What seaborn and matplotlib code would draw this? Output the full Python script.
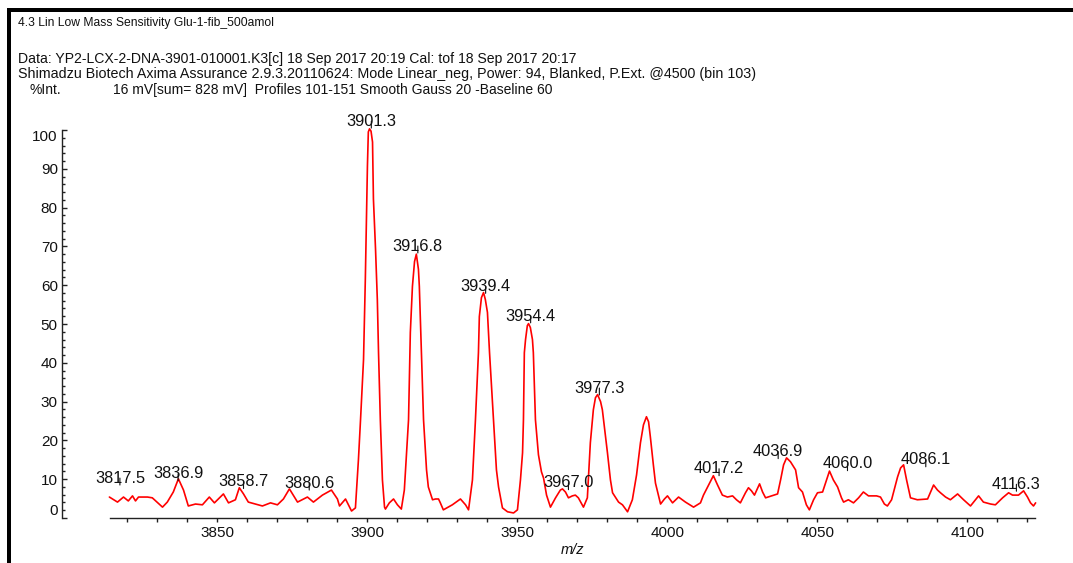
import matplotlib
matplotlib.use("Agg")
import matplotlib.pyplot as plt
from matplotlib.patches import Rectangle
from matplotlib.ticker import MultipleLocator
import numpy as np
import pandas as pd
import seaborn as sns

# ---- spectrum profile (m/z, relative intensity in %) ----
mz = [3814.0, 3816.7, 3818.7, 3820.3, 3821.7, 3822.7, 3823.7, 3826.7, 3828.3, 3831.7,
      3833.3, 3835.3, 3837.0, 3838.7, 3840.3, 3842.7, 3845.0, 3847.3, 3849.0, 3852.0,
      3853.7, 3856.0, 3857.3, 3858.7, 3860.3, 3865.0, 3867.7, 3870.0, 3872.0, 3874.0,
      3876.7, 3880.0, 3882.0, 3885.0, 3888.0, 3890.0, 3890.7, 3892.7, 3894.7, 3896.0,
      3897.0, 3897.7, 3898.7, 3899.3, 3899.7, 3900.0, 3900.3, 3900.7, 3901.2, 3901.7,
      3902.0, 3902.7, 3903.3, 3903.7, 3904.3, 3905.0, 3905.7, 3906.0, 3907.3, 3908.7,
      3910.0, 3911.3, 3912.3, 3913.7, 3914.3, 3915.0, 3915.7, 3916.3, 3917.0, 3917.3,
      3918.0, 3918.7, 3919.7, 3920.3, 3921.7, 3922.7, 3923.7, 3924.3, 3925.3, 3928.3,
      3931.0, 3932.7, 3933.7, 3935.0, 3936.0, 3937.0, 3937.3, 3938.0, 3938.7, 3939.3,
      3940.0, 3940.7, 3942.0, 3943.0, 3943.7, 3945.0, 3946.7, 3948.7, 3950.0, 3951.0,
      3951.7, 3952.0, 3952.3, 3952.7, 3953.3, 3953.7, 3954.3, 3955.0, 3955.3, 3956.0,
      3957.0, 3958.0, 3958.7, 3959.7, 3961.0, 3962.7, 3964.3, 3965.0, 3966.0, 3967.0,
      3968.3, 3969.3, 3970.3, 3972.0, 3973.3, 3974.3, 3975.3, 3976.0, 3976.7, 3977.7,
      3978.3, 3979.3, 3980.0, 3981.0, 3981.7, 3983.7, 3985.0, 3986.7, 3988.3, 3989.7,
      3991.0, 3992.0, 3993.0, 3993.7, 3994.3, 3995.3, 3996.0, 3997.7, 3999.0, 4000.0,
      4001.7, 4003.7, 4006.0, 4008.7, 4011.0, 4012.0, 4013.7, 4015.3, 4016.7, 4018.3,
      4020.0, 4021.7, 4023.0, 4024.3, 4026.0, 4027.0, 4028.0, 4029.0, 4030.7, 4031.7,
      4032.7, 4034.7, 4036.7, 4037.7, 4038.7, 4039.7, 4041.0, 4042.7, 4043.7, 4045.0,
      4046.3, 4047.3, 4048.7, 4050.0, 4051.7, 4053.0, 4054.0, 4055.3, 4056.7, 4058.0,
      4058.7, 4060.3, 4062.0, 4063.7, 4065.3, 4067.0, 4068.3, 4069.7, 4071.0, 4072.3,
      4073.3, 4074.7, 4075.3, 4076.7, 4077.7, 4078.7, 4079.7, 4081.0, 4083.3, 4086.7,
      4088.0, 4088.7, 4090.0, 4091.0, 4092.7, 4094.3, 4096.7, 4098.7, 4101.0, 4103.7,
      4105.3, 4107.7, 4109.3, 4111.7, 4113.7, 4115.0, 4117.0, 4118.7, 4120.0, 4121.0,
      4122.0, 4122.7]
intensity = [5.4, 4.1, 5.4, 4.4, 5.7, 4.4, 5.4, 5.4, 5.2, 2.8,
             4.1, 6.7, 10.1, 7.2, 3.1, 3.6, 3.4, 5.4, 3.9, 6.2,
             3.9, 4.7, 7.8, 6.2, 4.1, 3.1, 3.9, 3.4, 4.9, 7.5,
             4.1, 5.4, 4.1, 5.9, 7.2, 4.9, 3.1, 4.9, 1.8, 2.6,
             15.0, 25.3, 40.8, 61.5, 77.8, 90.7, 99.5, 100.3, 99.7, 96.9,
             82.2, 69.3, 56.3, 42.6, 25.3, 9.8, 2.8, 2.3, 3.9, 4.9,
             3.4, 2.3, 7.2, 25.3, 47.8, 59.7, 66.1, 68.0, 64.1, 59.7,
             42.6, 25.3, 12.4, 8.0, 4.7, 4.9, 4.9, 3.9, 2.1, 3.4,
             4.9, 3.4, 2.1, 9.8, 25.3, 42.6, 51.9, 56.8, 58.1, 56.3,
             53.0, 42.6, 25.3, 12.4, 8.0, 2.6, 1.6, 1.3, 2.1, 9.8,
             16.8, 25.3, 42.6, 46.0, 49.6, 50.1, 49.1, 46.0, 42.6, 25.3,
             16.3, 11.9, 10.3, 5.9, 2.8, 5.2, 7.2, 7.5, 6.7, 5.2,
             5.7, 5.9, 5.2, 2.8, 5.2, 19.4, 27.9, 31.0, 31.8, 30.0,
             27.9, 21.4, 16.8, 9.8, 6.5, 4.1, 3.4, 1.6, 4.7, 11.1,
             19.4, 24.0, 26.1, 24.8, 20.9, 13.7, 9.0, 3.6, 4.9, 5.7,
             3.9, 5.4, 4.1, 2.8, 3.9, 5.9, 8.5, 10.9, 8.5, 5.9,
             5.4, 5.7, 4.7, 3.9, 6.5, 7.8, 7.0, 5.9, 8.8, 6.7,
             5.2, 5.7, 6.2, 9.8, 13.7, 15.5, 14.5, 12.4, 7.8, 6.7,
             3.4, 2.1, 4.7, 6.5, 6.7, 9.8, 12.1, 9.8, 8.0, 5.2,
             4.1, 4.7, 3.9, 5.2, 6.7, 5.7, 5.7, 5.7, 5.4, 3.6,
             3.1, 4.7, 6.5, 10.6, 12.9, 13.7, 9.8, 5.2, 4.7, 4.9,
             7.2, 8.5, 7.2, 6.5, 5.4, 4.7, 6.2, 4.7, 3.1, 5.7,
             4.1, 3.6, 3.4, 5.2, 6.5, 5.9, 5.9, 7.0, 5.4, 3.9,
             3.1, 3.9]

# ---- annotated peaks ----
peak_labels = ["3817.5", "3836.9", "3858.7", "3880.6", "3901.3", "3916.8", "3939.4",
               "3954.4", "3967.0", "3977.3", "4017.2", "4036.9", "4060.0", "4086.1",
               "4116.3"]
peak_mz = [float(s) for s in peak_labels]
peak_level = [8.5, 9.6, 7.6, 7.2, 100.5, 68.3, 57.9, 50.3, 7.3, 31.7,
              10.9, 15.3, 12.2, 13.2, 6.9]

# ---- axis ticks ----
x_ticks = [3850, 3900, 3950, 4000, 4050, 4100]
y_ticks = [0, 10, 20, 30, 40, 50, 60, 70, 80, 90, 100]

header_title = "4.3 Lin Low Mass Sensitivity Glu-1-fib_500amol"
header_lines = [
    "Data: YP2-LCX-2-DNA-3901-010001.K3[c] 18 Sep 2017 20:19 Cal: tof 18 Sep 2017 20:17",
    "Shimadzu Biotech Axima Assurance 2.9.3.20110624: Mode Linear_neg, Power: 94, Blanked, P.Ext. @4500 (bin 103)",
]
y_unit = "%Int."
acq_info = "16 mV[sum= 828 mV]  Profiles 101-151 Smooth Gauss 20 -Baseline 60"

sns.set_theme(style="ticks")
plt.rcParams["font.family"] = ["Liberation Sans", "DejaVu Sans"]
TXT = "#111111"

W, H = 1073, 563
DPI = 100
fig = plt.figure(figsize=(W / DPI, H / DPI), dpi=DPI)
fig.patch.set_facecolor("white")

def fx(px):
    return px / W

def fy(py):
    return 1 - py / H

def pt(px):
    return px * 72.0 / DPI

ax = fig.add_axes([fx(110), fy(518), fx(1035) - fx(110), fy(130) - fy(518)])
ax.set_facecolor("white")

df = pd.DataFrame({"mz": mz, "intensity": intensity})
sns.lineplot(data=df, x="mz", y="intensity", ax=ax, color="#ff0000",
             linewidth=1.2, sort=False, estimator=None, clip_on=False)

ax.set_xlim(3814.2, 4122.5)
ax.set_ylim(0, 100)

# spines: detached y axis on the left, m/z axis along the bottom
for side in ("top", "right"):
    ax.spines[side].set_visible(False)
ax.spines["left"].set_position(("outward", pt(48)))
for side in ("left", "bottom"):
    ax.spines[side].set_color("#222222")
    ax.spines[side].set_linewidth(1.0)

ax.set_xticks(x_ticks)
ax.set_xticklabels([str(t) for t in x_ticks])
ax.xaxis.set_minor_locator(MultipleLocator(10))
ax.set_yticks(y_ticks)
ax.set_yticklabels([str(t) for t in y_ticks])
ax.yaxis.set_minor_locator(MultipleLocator(2))

ax.tick_params(axis="x", which="major", direction="out", length=3, width=1,
               color="#222222", labelsize=11, labelcolor=TXT, pad=3)
ax.tick_params(axis="x", which="minor", direction="out", length=3, width=1,
               color="#222222")
ax.tick_params(axis="y", which="major", direction="in", length=3.5, width=1,
               color="#222222", labelsize=11, labelcolor=TXT, pad=3)
ax.tick_params(axis="y", which="minor", direction="in", length=2, width=1,
               color="#222222")

for lab in ax.get_yticklabels():
    if lab.get_text() == "100":
        lab.set_verticalalignment("top")
    elif lab.get_text() == "0":
        lab.set_verticalalignment("bottom")

ax.set_xlabel("m/z", fontsize=10.5, fontstyle="italic", color=TXT, labelpad=2)
ax.set_ylabel("")

# peak annotations with small marker ticks
for lab, m, lv in zip(peak_labels, peak_mz, peak_level):
    ax.annotate(lab, xy=(m, lv), xytext=(0, -0.5), textcoords="offset points",
                ha="center", va="bottom", fontsize=11.8, color=TXT,
                annotation_clip=False)
    ax.annotate("", xy=(m, lv), xytext=(0, 5), textcoords="offset points",
                arrowprops=dict(arrowstyle="-", color=TXT, lw=0.8,
                                shrinkA=0, shrinkB=0),
                annotation_clip=False)

# header block
fig.text(fx(18), fy(23), header_title, fontsize=8.7, color=TXT, va="center", ha="left")
fig.text(fx(18), fy(59), header_lines[0], fontsize=10.1, color=TXT, va="center", ha="left")
fig.text(fx(18), fy(74), header_lines[1], fontsize=10.25, color=TXT, va="center", ha="left")
fig.text(fx(30), fy(90), y_unit, fontsize=10, color=TXT, va="center", ha="left")
fig.text(fx(113), fy(90), acq_info, fontsize=10, color=TXT, va="center", ha="left")

# page frame: heavy rule along the top and the left edge
fig.add_artist(Rectangle((fx(7), fy(12)), 1 - fx(7), fy(8) - fy(12),
                         transform=fig.transFigure, facecolor="black",
                         edgecolor="none"))
fig.add_artist(Rectangle((fx(7), 0), fx(11) - fx(7), fy(8),
                         transform=fig.transFigure, facecolor="black",
                         edgecolor="none"))

fig.savefig("out.png", dpi=DPI, facecolor="white")
